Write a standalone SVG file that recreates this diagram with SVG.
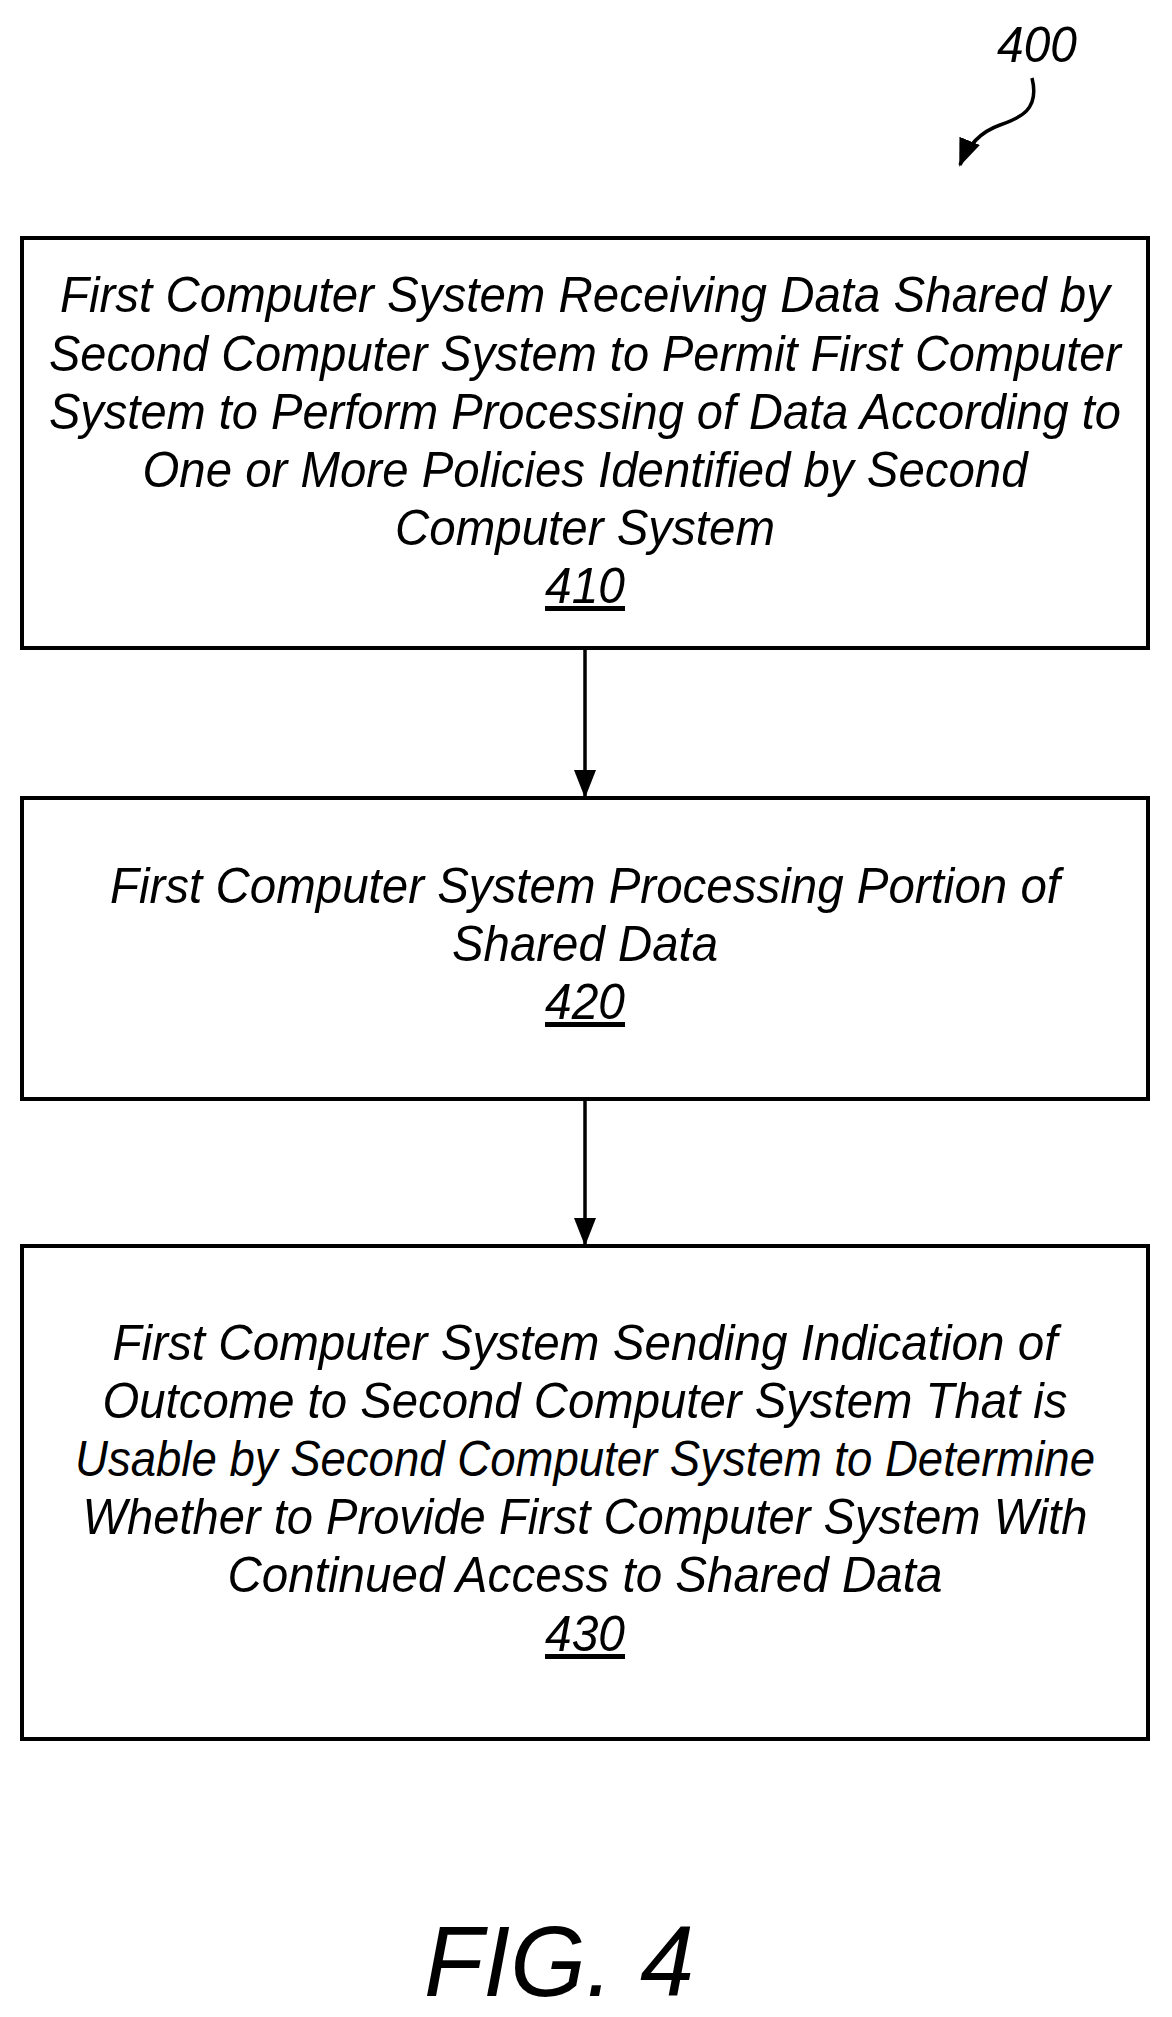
<svg xmlns="http://www.w3.org/2000/svg" width="1172" height="2017" viewBox="0 0 1172 2017">
<defs>
<style>
.b{fill:#fff;stroke:#000;stroke-width:4}
.t{font-family:"Liberation Sans",Arial,sans-serif;font-style:italic;font-size:50px;text-anchor:middle;fill:#000}
.c{stroke:#000;stroke-width:3.5;fill:none}
</style>
<marker id="ah2" markerWidth="28" markerHeight="28" refX="26" refY="14" orient="auto" markerUnits="userSpaceOnUse" viewBox="0 0 28 28"><path d="M0,3L28,14L0,25z"/></marker>
</defs>
<rect width="1172" height="2017" fill="#fff"/>
<g id="label400">
<text class="t" x="1037" y="62" textLength="80" lengthAdjust="spacingAndGlyphs">400</text>
<path class="c" d="M1032,78 C1040,110 1020,118 1000,125 C980,132 968,145 960,165" marker-end="url(#ah2)"/>
</g>
<g id="n410">
<rect class="b" x="22" y="238" width="1126" height="410"/>
<text class="t" x="585" y="312" textLength="1050" lengthAdjust="spacingAndGlyphs">First Computer System Receiving Data Shared by</text>
<text class="t" x="585" y="371" textLength="1072" lengthAdjust="spacingAndGlyphs">Second Computer System to Permit First Computer</text>
<text class="t" x="585" y="429" textLength="1072" lengthAdjust="spacingAndGlyphs">System to Perform Processing of Data According to</text>
<text class="t" x="585" y="487" textLength="885" lengthAdjust="spacingAndGlyphs">One or More Policies Identified by Second</text>
<text class="t" x="585" y="545" textLength="380" lengthAdjust="spacingAndGlyphs">Computer System</text>
<text class="t" x="585" y="603" textLength="80" lengthAdjust="spacingAndGlyphs" text-decoration="underline">410</text>
</g>
<g id="n420">
<rect class="b" x="22" y="798" width="1126" height="301"/>
<text class="t" x="585" y="903" textLength="950" lengthAdjust="spacingAndGlyphs">First Computer System Processing Portion of</text>
<text class="t" x="585" y="961" textLength="266" lengthAdjust="spacingAndGlyphs">Shared Data</text>
<text class="t" x="585" y="1019" textLength="80" lengthAdjust="spacingAndGlyphs" text-decoration="underline">420</text>
</g>
<g id="n430">
<rect class="b" x="22" y="1246" width="1126" height="493"/>
<text class="t" x="585" y="1360" textLength="945" lengthAdjust="spacingAndGlyphs">First Computer System Sending Indication of</text>
<text class="t" x="585" y="1418" textLength="965" lengthAdjust="spacingAndGlyphs">Outcome to Second Computer System That is</text>
<text class="t" x="585" y="1476" textLength="1020" lengthAdjust="spacingAndGlyphs">Usable by Second Computer System to Determine</text>
<text class="t" x="585" y="1534" textLength="1005" lengthAdjust="spacingAndGlyphs">Whether to Provide First Computer System With</text>
<text class="t" x="585" y="1592" textLength="715" lengthAdjust="spacingAndGlyphs">Continued Access to Shared Data</text>
<text class="t" x="585" y="1651" textLength="80" lengthAdjust="spacingAndGlyphs" text-decoration="underline">430</text>
</g>
<g id="connectors">
<line class="c" x1="585" y1="650" x2="585" y2="796" marker-end="url(#ah2)"/>
<line class="c" x1="585" y1="1101" x2="585" y2="1244" marker-end="url(#ah2)"/>
</g>
<text class="t" x="559" y="1996" style="font-size:100px" textLength="270" lengthAdjust="spacingAndGlyphs">FIG. 4</text>
</svg>
